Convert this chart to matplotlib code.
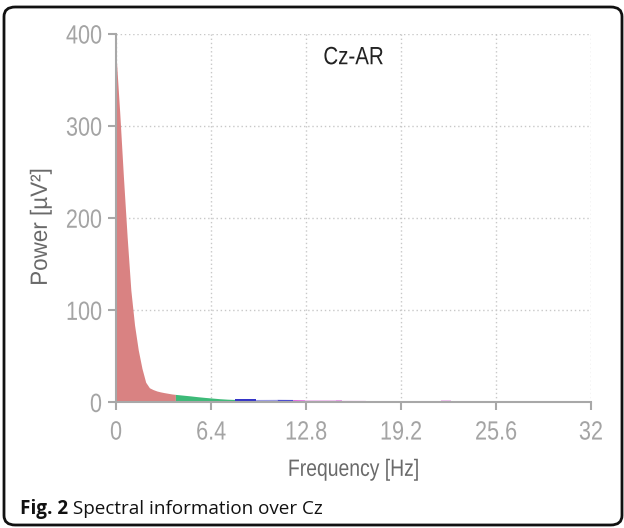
import matplotlib
matplotlib.use("Agg")
import matplotlib.pyplot as plt
from matplotlib.patches import FancyBboxPatch
from matplotlib.patheffects import AbstractPathEffect
from matplotlib.transforms import Affine2D

# ---- data ----
delta_freq = [0.0, 0.25, 0.5, 0.75, 1.0, 1.25, 1.5, 1.75, 2.0, 2.25, 2.5, 2.75, 3.0, 3.25, 3.5, 3.75, 4.0]
delta_power = [378, 315, 245, 180, 122, 84, 57, 37, 22, 16, 14, 12.5, 11.5, 10.7, 10, 9.3, 8.8]

theta_freq = [4.0, 4.5, 5.0, 5.5, 6.0, 6.5, 7.0, 7.5, 8.0]
theta_power = [8.8, 8.0, 7.2, 6.3, 5.5, 4.8, 4.1, 3.6, 3.3]

alpha1_freq = [8.0, 9.4]
alpha1_power = [3.3, 3.3]
alpha2_freq = [9.4, 10.85]
alpha2_power = [3.3, 3.4]
alpha3_freq = [10.85, 11.9]
alpha3_power = [3.4, 3.3]
beta1_freq = [11.9, 12.7]
beta1_power = [3.0, 2.8]
beta2_freq = [12.7, 14.8]
beta2_power = [2.6, 2.6]
beta3_freq = [14.8, 15.2]
beta3_power = [2.8, 2.8]
beta4_freq = [15.2, 16.8]
beta4_power = [2.5, 2.4]
gamma_freq = [21.9, 22.55]
gamma_power = [2.2, 2.2]

x_ticks = [0, 6.4, 12.8, 19.2, 25.6, 32]
x_tick_labels = ["0", "6.4", "12.8", "19.2", "25.6", "32"]
y_ticks = [0, 100, 200, 300, 400]

title = "Cz-AR"
xlabel = "Frequency [Hz]"
ylabel = "Power [µV²]"
caption_bold = "Fig. 2"
caption_text = " Spectral information over Cz"


class HSqueeze(AbstractPathEffect):
    """Draw text horizontally condensed (imitates a narrow font face)."""

    def __init__(self, sx=0.82, anchor="center"):
        super().__init__()
        self.sx = sx
        self.anchor = anchor

    def draw_path(self, renderer, gc, tpath, affine, rgbFace=None):
        ext = tpath.get_extents()
        if self.anchor == "center":
            cx = (ext.x0 + ext.x1) / 2
        elif self.anchor == "right":
            cx = ext.x1
        else:
            cx = 0
        t = Affine2D().translate(-cx, 0).scale(self.sx, 1).translate(cx, 0)
        renderer.draw_path(gc, tpath, t + affine, rgbFace)


fam = ["Liberation Sans", "DejaVu Sans"]
fig = plt.figure(figsize=(6.24, 5.28), dpi=100)
ax = fig.add_axes([0.1859, 0.2377, 0.7612, 0.6979])

segments = [
    (delta_freq, delta_power, "#d98282"),
    (theta_freq, theta_power, "#3dba78"),
    (alpha1_freq, alpha1_power, "#3535c8"),
    (alpha2_freq, alpha2_power, "#9a9ae4"),
    (alpha3_freq, alpha3_power, "#4a4ad0"),
    (beta1_freq, beta1_power, "#d83ad8"),
    (beta2_freq, beta2_power, "#f0c4f0"),
    (beta3_freq, beta3_power, "#e8a0e8"),
    (beta4_freq, beta4_power, "#f0c4f0"),
    (gamma_freq, gamma_power, "#f0c4f0"),
]
for f, p, c in segments:
    ax.fill_between(f, 0, p, color=c, linewidth=0, zorder=2)

ax.set_xlim(0, 32)
ax.set_ylim(0, 400)
ax.set_xticks(x_ticks)
ax.set_xticklabels(x_tick_labels)
ax.set_yticks(y_ticks)

grid_col = "#c8c8c8"
ax.grid(True, which="major", linestyle=(0, (1, 2)), color=grid_col, linewidth=1.0, zorder=0)
ax.set_axisbelow(True)

spine_col = "#a8a8a8"
for s in ["top", "right"]:
    ax.spines[s].set_visible(False)
for s in ["left", "bottom"]:
    ax.spines[s].set_color(spine_col)
    ax.spines[s].set_linewidth(1.5)
    ax.spines[s].set_zorder(3)

ax.tick_params(axis="both", direction="out", length=6, width=1.5, color=spine_col,
               labelcolor="#a4a4a4", labelsize=19)
ax.tick_params(axis="x", pad=7)
ax.tick_params(axis="y", pad=4)
for lab in ax.get_xticklabels():
    lab.set_family(fam)
    lab.set_path_effects([HSqueeze(0.82, "center")])
for lab in ax.get_yticklabels():
    lab.set_family(fam)
    lab.set_path_effects([HSqueeze(0.82, "right")])

ax.text(0.5, 0.937, title, transform=ax.transAxes, ha="center", va="center",
        fontsize=18, color="#222222", family=fam, path_effects=[HSqueeze(0.82, "center")])

xl = ax.set_xlabel(xlabel, fontsize=17, color="#6a6a6a", family=fam)
xl.set_path_effects([HSqueeze(0.82, "center")])
ax.xaxis.set_label_coords(0.5, -0.153)
yl = ax.set_ylabel(ylabel, fontsize=17, color="#6a6a6a", family=fam)
yl.set_path_effects([HSqueeze(0.95, "center")])
ax.yaxis.set_label_coords(-0.135, 0.476)

# caption
cap_y = 1 - 509 / 528
t1 = fig.text(20 / 624, cap_y, caption_bold, fontsize=13.6, fontweight="bold",
              family=["Open Sans", "DejaVu Sans"], va="center", ha="left", color="#111111")
fig.canvas.draw()
bb = t1.get_window_extent()
fig.text(bb.x1 / 624, cap_y, caption_text, fontsize=13.6,
         family=["Open Sans", "DejaVu Sans"], va="center", ha="left", color="#111111")

# rounded frame
frame = FancyBboxPatch((4 / 624, 1 - 525 / 528), 618 / 624, 518 / 528,
                       boxstyle="round,pad=0,rounding_size=0.018",
                       transform=fig.transFigure, fill=False, edgecolor="#111111",
                       linewidth=2.0, clip_on=False)
fig.patches.append(frame)

fig.savefig("out.png", dpi=100)
